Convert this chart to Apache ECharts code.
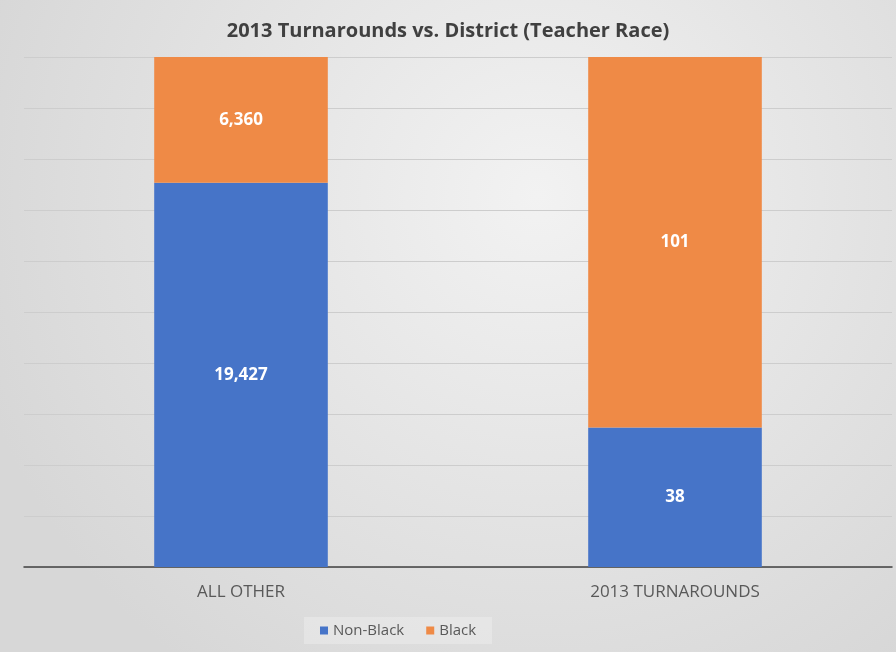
<!DOCTYPE html>
<html><head><meta charset="utf-8">
<script src="https://cdn.jsdelivr.net/npm/echarts@6/dist/echarts.min.js"></script>
<style>html,body{margin:0;padding:0;}#c{width:896px;height:652px;}</style>
</head><body><div id="c"></div>
<script>
const categories = ['ALL OTHER', '2013 TURNAROUNDS'];
const nonBlack = [19427, 38];
const black = [6360, 101];
const seriesNames = ['Non-Black', 'Black'];

const totals = categories.map((_, i) => nonBlack[i] + black[i]);
const pct = (arr) => arr.map((v, i) => ({ value: v / totals[i] * 100, raw: v }));
const fmt = (p) => p.data.raw.toLocaleString('en-US');

const chart = echarts.init(document.getElementById('c'));
chart.setOption({
  backgroundColor: {
    type: 'radial', x: 0.6, y: 0.3, r: 0.9,
    colorStops: [{ offset: 0, color: '#f2f2f2' }, { offset: 1, color: '#d7d7d7' }]
  },
  title: {
    text: '2013 Turnarounds vs. District (Teacher Race)',
    left: 'center', top: 16,
    textStyle: { fontFamily: 'Open Sans', fontSize: 20, fontWeight: 'bold', color: '#404040' }
  },
  legend: {
    bottom: 8, left: 304,
    itemWidth: 8, itemHeight: 8, itemGap: 22,
    backgroundColor: 'rgba(240,240,240,0.45)', padding: [6, 16],
    textStyle: { fontFamily: 'Open Sans', fontSize: 15, color: '#595959' },
    data: seriesNames.map(n => ({ name: n, icon: 'rect' }))
  },
  grid: { left: 24, right: 4, top: 57, bottom: 85 },
  xAxis: {
    type: 'category', data: categories,
    axisLine: { lineStyle: { color: '#404040', width: 1.5 } },
    axisTick: { show: false },
    axisLabel: { fontFamily: 'Open Sans', fontSize: 17, color: '#595959', margin: 17 }
  },
  yAxis: {
    type: 'value', min: 0, max: 100, interval: 10,
    axisLabel: { show: false },
    axisLine: { show: false }, axisTick: { show: false },
    splitLine: { lineStyle: { color: '#cdcdcd', width: 1 } }
  },
  series: [
    {
      name: seriesNames[0], type: 'bar', stack: 'a', barWidth: '40%',
      data: pct(nonBlack), itemStyle: { color: '#4674c8' },
      label: { show: true, position: 'inside', formatter: fmt, color: '#fff',
        fontFamily: 'Open Sans', fontWeight: 'bold', fontSize: 17 }
    },
    {
      name: seriesNames[1], type: 'bar', stack: 'a', barWidth: '40%',
      data: pct(black), itemStyle: { color: '#ef8a46' },
      label: { show: true, position: 'inside', formatter: fmt, color: '#fff',
        fontFamily: 'Open Sans', fontWeight: 'bold', fontSize: 17 }
    }
  ]
});
</script></body></html>
